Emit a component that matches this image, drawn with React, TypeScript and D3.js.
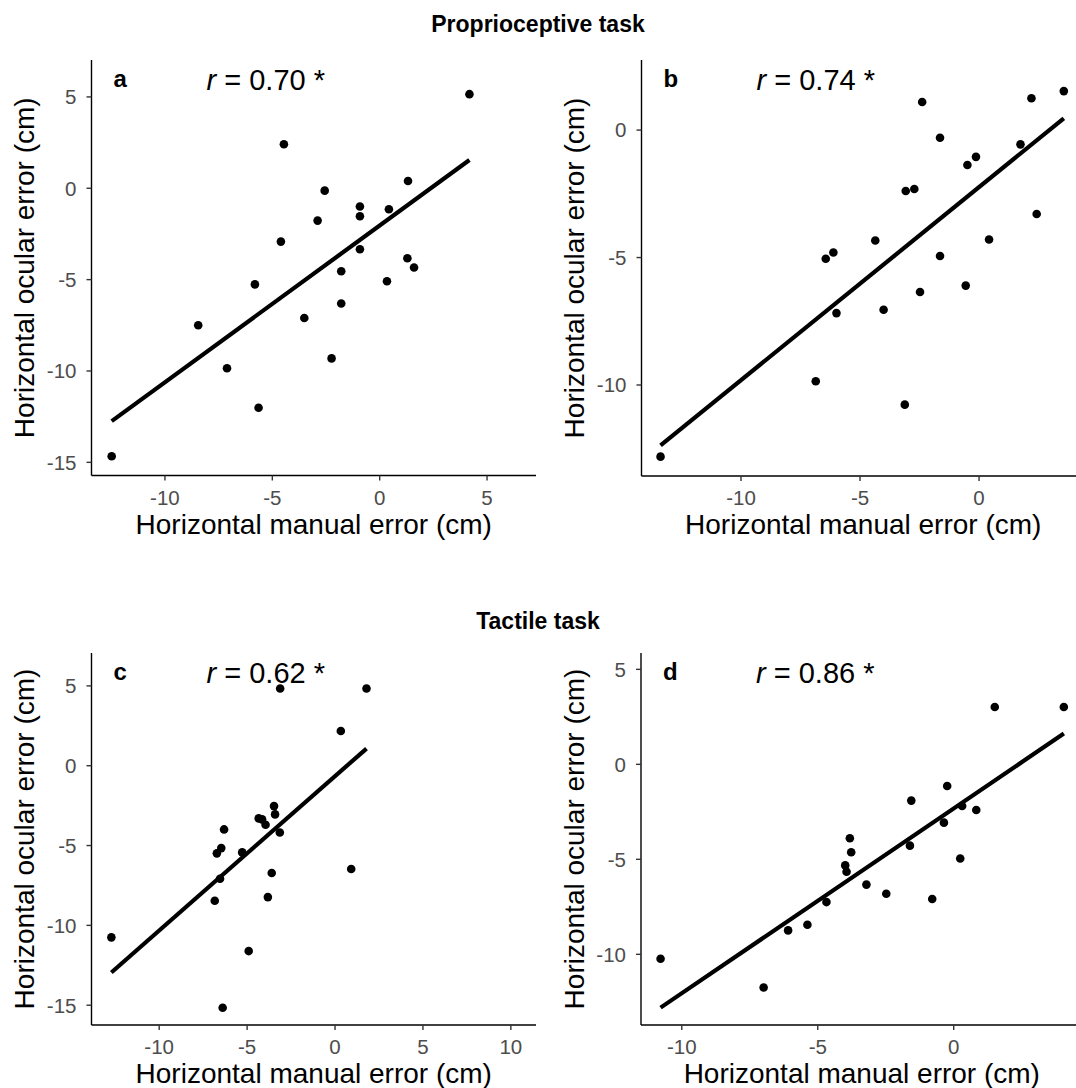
import React from 'react';
import * as d3 from 'd3';

// ---- Data ----
const aX = [4.18, -4.46, 1.32, -2.56, -0.92, -0.92, 0.43, -2.89, -4.60, -0.92, 1.29, 1.60, -1.79, 0.34, -5.81, -1.79, -3.51, -8.45, -2.24, -7.11, -5.64, -12.48];
const aY = [5.15, 2.41, 0.40, -0.13, -1.00, -1.53, -1.15, -1.77, -2.92, -3.34, -3.83, -4.34, -4.54, -5.09, -5.26, -6.31, -7.10, -7.50, -9.31, -9.85, -12.01, -14.67];

const bX = [3.56, 2.20, -2.39, -1.64, 1.74, -0.13, -0.49, -3.08, -2.72, 2.42, -4.36, 0.42, -6.12, -6.44, -1.64, -0.56, -2.48, -4.01, -5.99, -6.86, -3.12, -13.38];
const bY = [1.53, 1.25, 1.10, -0.30, -0.56, -1.05, -1.37, -2.39, -2.31, -3.29, -4.33, -4.29, -4.80, -5.05, -4.94, -6.10, -6.35, -7.05, -7.18, -9.85, -10.77, -12.81];

const cX = [-3.12, 1.79, 0.33, -3.47, -3.41, -4.34, -4.15, -3.95, -3.14, -6.31, -6.47, -6.72, -5.28, -3.60, 0.92, -6.54, -6.84, -3.82, -12.72, -4.91, -6.39];
const cY = [4.84, 4.84, 2.17, -2.53, -3.05, -3.30, -3.36, -3.70, -4.18, -3.99, -5.16, -5.49, -5.43, -6.72, -6.47, -7.08, -8.46, -8.23, -10.75, -11.61, -15.16];

const dX = [1.51, 4.05, -0.24, -1.56, 0.31, 0.83, -0.36, -3.82, -3.77, -1.61, 0.24, -3.99, -3.94, -3.21, -2.48, -0.79, -4.68, -5.38, -6.09, -10.78, -6.99];
const dY = [3.02, 3.02, -1.14, -1.91, -2.19, -2.40, -3.07, -3.89, -4.63, -4.28, -4.96, -5.32, -5.65, -6.33, -6.81, -7.09, -7.25, -8.44, -8.74, -10.23, -11.75];

const panelLetters = ['a', 'b', 'c', 'd'];
const rValues = ['0.70', '0.74', '0.62', '0.86'];
const rowTitles = ['Proprioceptive task', 'Tactile task'];
const xAxisTitle = 'Horizontal manual error (cm)';
const yAxisTitle = 'Horizontal ocular error (cm)';

const xTicksA = [-10, -5, 0, 5];
const xTicksB = [-10, -5, 0];
const xTicksC = [-10, -5, 0, 5, 10];
const xTicksD = [-10, -5, 0];
const yTicksA = [5, 0, -5, -10, -15];
const yTicksB = [0, -5, -10];
const yTicksC = [5, 0, -5, -10, -15];
const yTicksD = [5, 0, -5, -10];

const xLimA = [-13.42, 7.28];
const xLimB = [-14.18, 4.45];
const xLimC = [-13.85, 11.43];
const xLimD = [-11.5, 4.74];
const yLimA = [-15.72, 7.02];
const yLimB = [-13.57, 2.75];
const yLimC = [-16.24, 7.06];
const yLimD = [-13.72, 5.86];

// ---- Layout ----
const W = 1076;
const H = 1088;
const FONT = '"Liberation Sans", Arial, Helvetica, sans-serif';

const boxes = [
  { left: 91.5, right: 536, top: 60, bottom: 475.5 },
  { left: 641.5, right: 1085, top: 60, bottom: 476 },
  { left: 91.5, right: 536, top: 653, bottom: 1025 },
  { left: 641, right: 1082.6, top: 653, bottom: 1025 },
];

const panelData = [
  { xs: aX, ys: aY, xt: xTicksA, yt: yTicksA, xl: xLimA, yl: yLimA },
  { xs: bX, ys: bY, xt: xTicksB, yt: yTicksB, xl: xLimB, yl: yLimB },
  { xs: cX, ys: cY, xt: xTicksC, yt: yTicksC, xl: xLimC, yl: yLimC },
  { xs: dX, ys: dY, xt: xTicksD, yt: yTicksD, xl: xLimD, yl: yLimD },
];

function regression(xs: number[], ys: number[]) {
  const mx = d3.mean(xs) as number;
  const my = d3.mean(ys) as number;
  let sxy = 0;
  let sxx = 0;
  xs.forEach((x, i) => {
    sxy += (x - mx) * (ys[i] - my);
    sxx += (x - mx) * (x - mx);
  });
  const slope = sxy / sxx;
  const intercept = my - slope * mx;
  return { slope, intercept };
}

function Panel({ idx }: { idx: number }) {
  const b = boxes[idx];
  const p = panelData[idx];
  const x = d3.scaleLinear().domain(p.xl).range([b.left, b.right]);
  const y = d3.scaleLinear().domain(p.yl).range([b.bottom, b.top]);
  const { slope, intercept } = regression(p.xs, p.ys);
  const [x0, x1] = d3.extent(p.xs) as [number, number];
  const line = d3.line<[number, number]>().x((d) => x(d[0])).y((d) => y(d[1]));
  const pathD = line([
    [x0, intercept + slope * x0],
    [x1, intercept + slope * x1],
  ]) as string;
  const tickLen = 5;
  const midX = (b.left + b.right) / 2;
  const midY = (b.top + b.bottom) / 2;
  return (
    <g>
      {/* axis lines */}
      <line x1={b.left} x2={b.left} y1={b.top} y2={b.bottom} stroke="#000" strokeWidth={1.4} />
      <line x1={b.left} x2={b.right} y1={b.bottom} y2={b.bottom} stroke="#000" strokeWidth={1.4} />
      {/* x ticks */}
      {p.xt.map((t) => (
        <g key={'xt' + t}>
          <line x1={x(t)} x2={x(t)} y1={b.bottom} y2={b.bottom + tickLen} stroke="#333" strokeWidth={1.4} />
          <text x={x(t)} y={b.bottom + 29} textAnchor="middle" fontSize={20.5} fill="#4D4D4D" fontFamily={FONT}>
            {t}
          </text>
        </g>
      ))}
      {/* y ticks */}
      {p.yt.map((t) => (
        <g key={'yt' + t}>
          <line x1={b.left - tickLen} x2={b.left} y1={y(t)} y2={y(t)} stroke="#333" strokeWidth={1.4} />
          <text x={b.left - 15} y={y(t)} dy="0.36em" textAnchor="end" fontSize={20.5} fill="#4D4D4D" fontFamily={FONT}>
            {t}
          </text>
        </g>
      ))}
      {/* axis titles */}
      <text x={midX} y={b.bottom + 58} textAnchor="middle" fontSize={28} fill="#000" fontFamily={FONT}>
        {xAxisTitle}
      </text>
      <text
        transform={`translate(${b.left - 57.5},${midY}) rotate(-90)`}
        textAnchor="middle"
        fontSize={28}
        fill="#000"
        fontFamily={FONT}
      >
        {yAxisTitle}
      </text>
      {/* regression line */}
      <path d={pathD} stroke="#000" strokeWidth={4.2} fill="none" />
      {/* points */}
      {p.xs.map((v, i) => (
        <circle key={i} cx={x(v)} cy={y(p.ys[i])} r={4.3} fill="#000" />
      ))}
      {/* annotations */}
      <text x={b.left + 22} y={b.top + 27} fontSize={24} fontWeight="bold" fill="#000" fontFamily={FONT}>
        {panelLetters[idx]}
      </text>
      <text x={b.left + 115} y={b.top + 30} fontSize={29} fill="#000" fontFamily={FONT}>
        <tspan fontStyle="italic">r</tspan>
        {' = ' + rValues[idx] + ' *'}
      </text>
    </g>
  );
}

export default function App() {
  return (
    <svg
      width={W}
      height={H}
      viewBox={`0 0 ${W} ${H}`}
      style={{ position: 'absolute', left: 0, top: 0, background: '#fff' }}
    >
      <rect x={0} y={0} width={W} height={H} fill="#fff" />
      <text x={W / 2} y={32} textAnchor="middle" fontSize={23} fontWeight="bold" fill="#000" fontFamily={FONT}>
        {rowTitles[0]}
      </text>
      <text x={W / 2} y={629} textAnchor="middle" fontSize={23} fontWeight="bold" fill="#000" fontFamily={FONT}>
        {rowTitles[1]}
      </text>
      {[0, 1, 2, 3].map((i) => (
        <Panel key={i} idx={i} />
      ))}
    </svg>
  );
}
